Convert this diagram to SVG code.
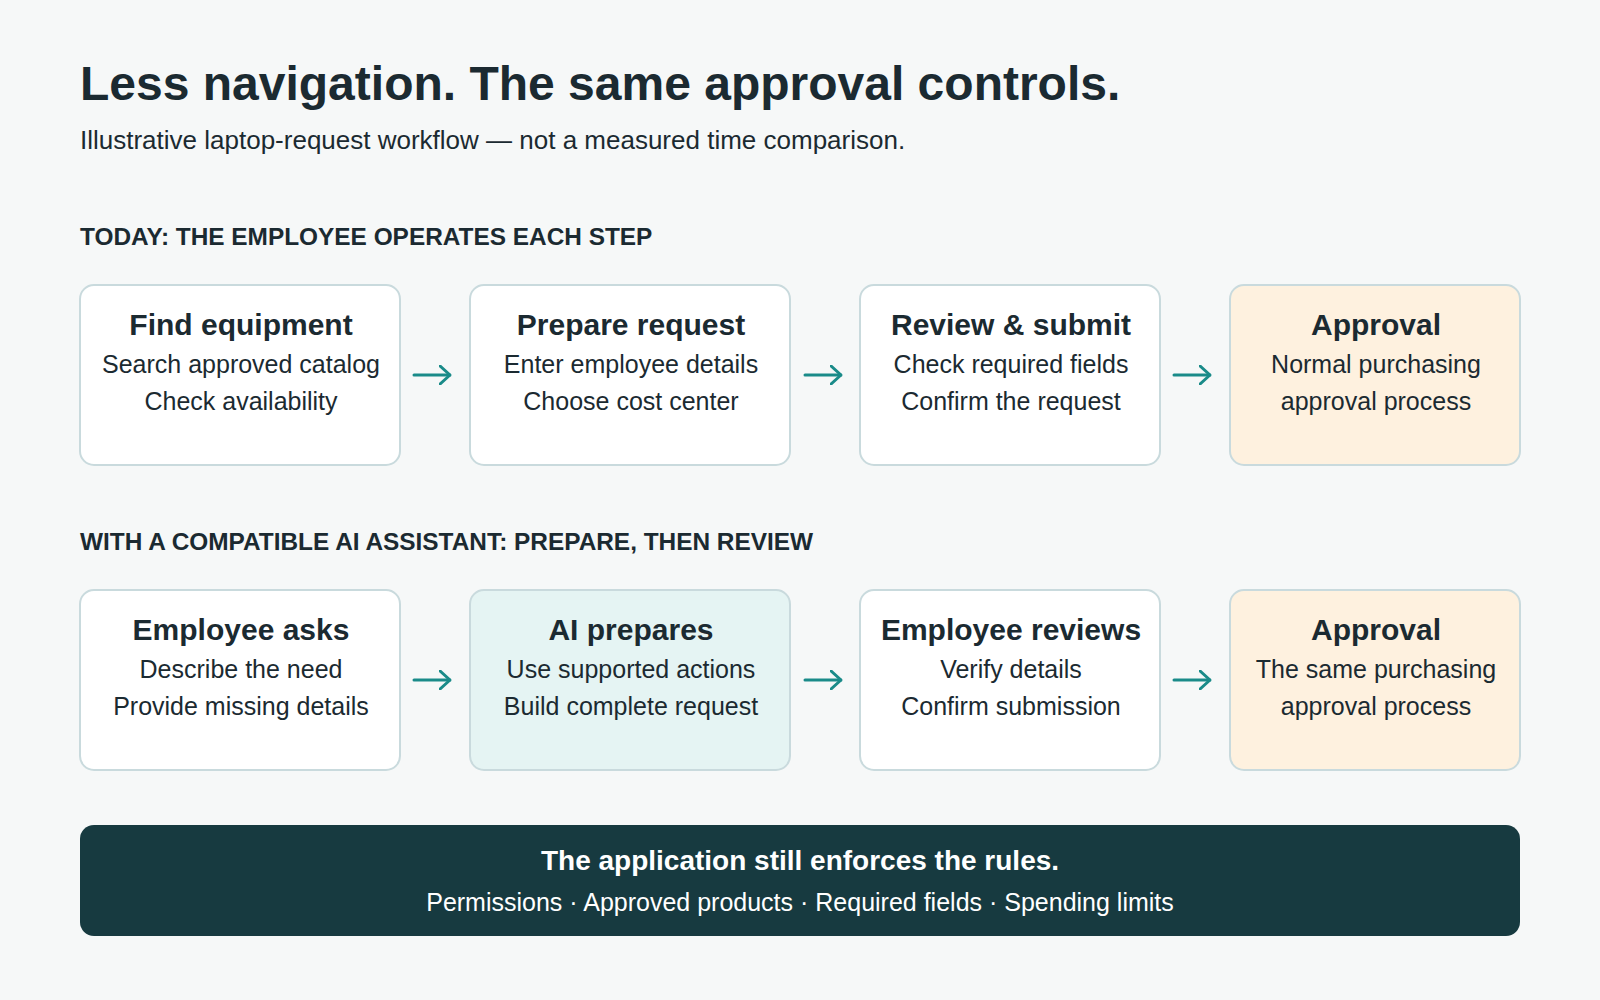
<svg xmlns="http://www.w3.org/2000/svg" width="1600" height="1000" viewBox="0 0 1600 1000">
<defs>
<marker id="ah" viewBox="0 0 12 20" refX="11" refY="10" markerWidth="12" markerHeight="20" markerUnits="userSpaceOnUse" orient="auto">
<path d="M1 1 L11 10 L1 19" fill="none" stroke="#1a8b89" stroke-width="3" stroke-linecap="round" stroke-linejoin="round"/>
</marker>
<style>
text{font-family:"Liberation Sans",Arial,Helvetica,sans-serif;fill:#1b2a31}
.h1{font-size:48px;font-weight:bold}
.sub{font-size:26px}
.sec{font-size:24.4px;font-weight:bold}
.box{fill:#ffffff;stroke:#c9dadd;stroke-width:2}
.appr{fill:#fef1df}
.ai{fill:#e5f4f3}
.t{font-size:30px;font-weight:bold;text-anchor:middle}
.l{font-size:25px;text-anchor:middle}
.conn{stroke:#1a8b89;stroke-width:3;fill:none;stroke-linecap:round;marker-end:url(#ah)}
.bt{font-size:28px;font-weight:bold;text-anchor:middle;fill:#ffffff}
.bl{font-size:25px;text-anchor:middle;fill:#ffffff}
</style>
</defs>
<rect width="1600" height="1000" fill="#f6f8f8"/>
<text class="h1" x="80" y="100">Less navigation. The same approval controls.</text>
<text class="sub" x="80" y="149">Illustrative laptop-request workflow — not a measured time comparison.</text>
<text class="sec" x="80" y="245">TODAY: THE EMPLOYEE OPERATES EACH STEP</text>
<text class="sec" x="80" y="550">WITH A COMPATIBLE AI ASSISTANT: PREPARE, THEN REVIEW</text>

<g id="n1"><rect class="box" x="80" y="285" width="320" height="180" rx="14"/>
<text class="t" x="241" y="335">Find equipment</text><text class="l" x="241" y="373">Search approved catalog</text><text class="l" x="241" y="410">Check availability</text></g>
<g id="n2"><rect class="box" x="470" y="285" width="320" height="180" rx="14"/>
<text class="t" x="631" y="335">Prepare request</text><text class="l" x="631" y="373">Enter employee details</text><text class="l" x="631" y="410">Choose cost center</text></g>
<g id="n3"><rect class="box" x="860" y="285" width="300" height="180" rx="14"/>
<text class="t" x="1011" y="335">Review &amp; submit</text><text class="l" x="1011" y="373">Check required fields</text><text class="l" x="1011" y="410">Confirm the request</text></g>
<g id="n4"><rect class="box appr" x="1230" y="285" width="290" height="180" rx="14"/>
<text class="t" x="1376" y="335">Approval</text><text class="l" x="1376" y="373">Normal purchasing</text><text class="l" x="1376" y="410">approval process</text></g>

<g id="n5"><rect class="box" x="80" y="590" width="320" height="180" rx="14"/>
<text class="t" x="241" y="640">Employee asks</text><text class="l" x="241" y="678">Describe the need</text><text class="l" x="241" y="715">Provide missing details</text></g>
<g id="n6"><rect class="box ai" x="470" y="590" width="320" height="180" rx="14"/>
<text class="t" x="631" y="640">AI prepares</text><text class="l" x="631" y="678">Use supported actions</text><text class="l" x="631" y="715">Build complete request</text></g>
<g id="n7"><rect class="box" x="860" y="590" width="300" height="180" rx="14"/>
<text class="t" x="1011" y="640">Employee reviews</text><text class="l" x="1011" y="678">Verify details</text><text class="l" x="1011" y="715">Confirm submission</text></g>
<g id="n8"><rect class="box appr" x="1230" y="590" width="290" height="180" rx="14"/>
<text class="t" x="1376" y="640">Approval</text><text class="l" x="1376" y="678">The same purchasing</text><text class="l" x="1376" y="715">approval process</text></g>

<g id="connectors">
<line class="conn" x1="414" y1="375" x2="450" y2="375"/>
<line class="conn" x1="805" y1="375" x2="841" y2="375"/>
<line class="conn" x1="1174" y1="375" x2="1210" y2="375"/>
<line class="conn" x1="414" y1="680" x2="450" y2="680"/>
<line class="conn" x1="805" y1="680" x2="841" y2="680"/>
<line class="conn" x1="1174" y1="680" x2="1210" y2="680"/>
</g>

<g id="banner"><rect x="80" y="825" width="1440" height="111" rx="14" fill="#173a40"/>
<text class="bt" x="800" y="870">The application still enforces the rules.</text>
<text class="bl" x="800" y="911">Permissions · Approved products · Required fields · Spending limits</text></g>
</svg>
